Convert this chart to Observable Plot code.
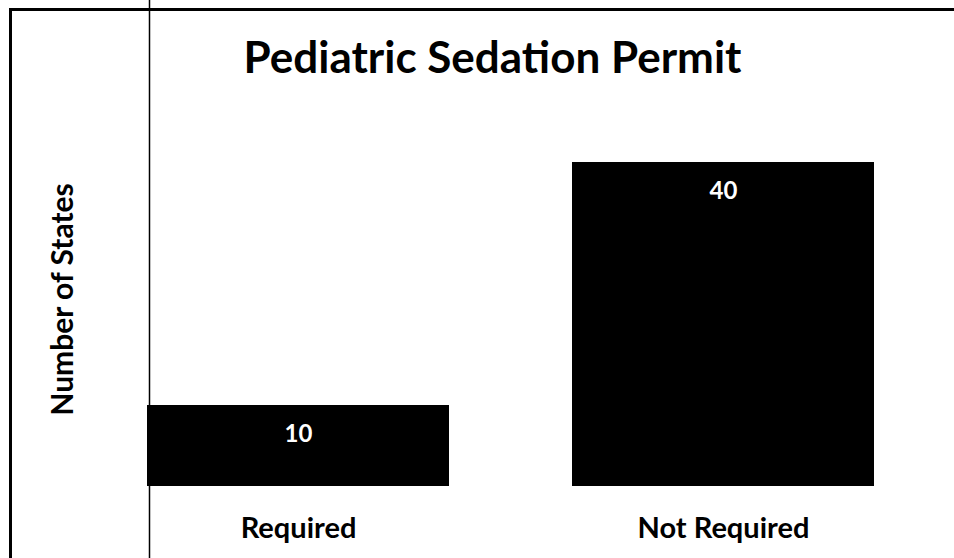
<!DOCTYPE html>
<html><head><meta charset="utf-8">
<script src="https://cdn.jsdelivr.net/npm/d3@7"></script>
<script src="https://cdn.jsdelivr.net/npm/@observablehq/plot@0.6"></script>
<style>
html,body{margin:0;padding:0;background:#fff;}
#wrap{position:relative;width:954px;height:558px;overflow:hidden;}
#box{position:absolute;left:9px;top:8px;right:-10px;bottom:-10px;border-left:3px solid #000;border-top:3px solid #000;}
#chart{position:absolute;left:0;top:0;}
</style></head><body>
<div id="wrap"><div id="box"></div><div id="chart"></div></div>
<script>
const categories = ["Required", "Not Required"];
const values = [10, 40];
const title = "Pediatric Sedation Permit";
const yLabel = "Number of States";
const data = categories.map((c, i) => ({category: c, value: values[i]}));
const font = "Lato, 'Open Sans', sans-serif";
const chart = Plot.plot({
  width: 954, height: 558, marginTop: 0, marginBottom: 0, marginLeft: 149, marginRight: 0,
  style: {fontFamily: font, background: "transparent"},
  x: {domain: categories, range: [147, 874], paddingInner: 0.29, paddingOuter: 0, axis: null},
  y: {domain: [0, 40], range: [486, 162], axis: null},
  marks: [
    Plot.barY(data, {x: "category", y: "value", fill: "#000"}),
    Plot.text(data, {x: "category", y: "value", text: d => String(d.value), fill: "#fff", fontSize: 24, fontWeight: "bold", dy: 29, textAnchor: "middle", lineAnchor: "middle"}),
    Plot.text(data, {x: "category", text: "category", frameAnchor: "bottom", dy: -30, fontSize: 29, fontWeight: "bold", fill: "#000", textAnchor: "middle", lineAnchor: "middle"}),
    Plot.text([title], {frameAnchor: "top", text: d => d, dx: -59.5, dy: 58, fontSize: 44, fontWeight: "bold", fill: "#000", textAnchor: "middle", lineAnchor: "middle"}),
    Plot.text([yLabel], {frameAnchor: "left", text: d => d, dx: -86, dy: 20, rotate: -90, fontSize: 30, fontWeight: "bold", fill: "#000", textAnchor: "middle", lineAnchor: "middle"}),
    Plot.frame({anchor: "left", stroke: "#000", strokeWidth: 1.5})
  ]
});
document.getElementById("chart").appendChild(chart);
</script>
</body></html>
